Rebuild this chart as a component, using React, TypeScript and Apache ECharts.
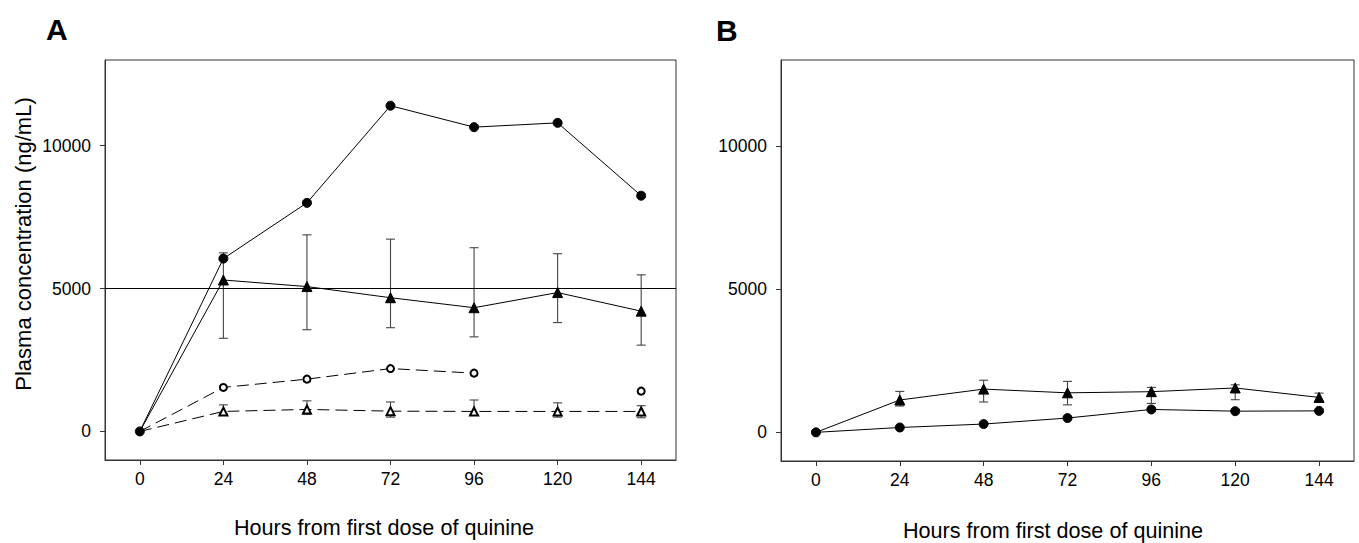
import React, { useEffect, useRef } from "react";
import * as echarts from "echarts";

const hours = [0, 24, 48, 72, 96, 120, 144];
const tickHours = [0, 24, 48, 72, 96, 120, 144];
const tickConc = [0, 5000, 10000];
const threshold = 5000;

// Panel A
const aFilledCircle = [0, 6050, 8000, 11400, 10650, 10800, 8250];
const aFilledTri = [0, 5300, 5070, 4680, 4330, 4860, 4210];
const aFilledTriLow = [null, 3260, 3560, 3630, 3310, 3810, 3020];
const aFilledTriHigh = [null, 6250, 6880, 6730, 6430, 6220, 5480];
const aOpenCircle = [0, 1540, 1830, 2200, 2040, null, 1410];
const aOpenTri = [0, 700, 770, 710, 700, 700, 700];
const aOpenTriLow = [null, 620, 600, 500, 590, 500, 480];
const aOpenTriHigh = [null, 930, 1070, 1030, 1100, 1000, 900];

// Panel B
const bFilledTri = [0, 1130, 1510, 1380, 1420, 1550, 1220];
const bFilledTriLow = [null, 920, 1060, 960, 1010, 1140, 1100];
const bFilledTriHigh = [null, 1430, 1820, 1780, 1570, 1660, 1370];
const bFilledCircle = [0, 170, 290, 500, 800, 740, 750];

const FONT = "Liberation Sans, Arial, sans-serif";
const LABEL_SIZE = 17.5;

function pts(vals: (number | null)[], hideFirst = false) {
  return vals.map((v, i) => {
    const value = [hours[i], v == null ? "-" : v];
    if (hideFirst && i === 0) return { value, symbolSize: 0 };
    return { value };
  });
}

function bars(lo: (number | null)[], hi: (number | null)[]) {
  const out: number[][] = [];
  lo.forEach((l, i) => {
    const h = hi[i];
    if (l != null && h != null) out.push([hours[i], l, h]);
  });
  return out;
}

function errorSeries(data: number[][], axis: number) {
  return {
    type: "custom",
    xAxisIndex: axis,
    yAxisIndex: axis,
    z: 1,
    encode: { x: 0, y: [1, 2] },
    data,
    renderItem: (params: any, api: any) => {
      const x = api.value(0);
      const lo = api.coord([x, api.value(1)]);
      const hi = api.coord([x, api.value(2)]);
      const hw = 4.5;
      const style = { stroke: "#444", lineWidth: 1.1 };
      return {
        type: "group",
        children: [
          { type: "line", shape: { x1: lo[0], y1: lo[1], x2: hi[0], y2: hi[1] }, style },
          { type: "line", shape: { x1: lo[0] - hw, y1: lo[1], x2: lo[0] + hw, y2: lo[1] }, style },
          { type: "line", shape: { x1: hi[0] - hw, y1: hi[1], x2: hi[0] + hw, y2: hi[1] }, style },
        ],
      };
    },
  };
}

function lineSeries(
  vals: (number | null)[],
  axis: number,
  symbol: string,
  size: number,
  dashed: boolean,
  hideFirst: boolean,
  z: number
) {
  return {
    type: "line",
    xAxisIndex: axis,
    yAxisIndex: axis,
    data: pts(vals, hideFirst),
    symbol,
    symbolSize: size,
    showSymbol: true,
    connectNulls: false,
    z,
    itemStyle: { color: "#000", borderColor: "#000", borderWidth: 1 },
    lineStyle: { color: "#000", width: 1, type: dashed ? [12, 6] : "solid" },
  };
}

const labelRich = { t: { fontSize: LABEL_SIZE, fontFamily: FONT, color: "#000" } };
const fmt = (v: number) => `{t|${v}}`;

function xAxis(idx: number) {
  return {
    type: "value",
    gridIndex: idx,
    min: -10,
    max: 154,
    splitLine: { show: false },
    axisLine: { show: true, onZero: false, lineStyle: { color: "#333", width: 1 } },
    axisTick: { show: true, length: 5, lineStyle: { color: "#333" }, customValues: tickHours },
    axisLabel: {
      customValues: tickHours,
      formatter: fmt,
      rich: labelRich,
      fontSize: LABEL_SIZE,
      fontFamily: FONT,
      color: "#000",
      margin: 10,
    },
  };
}

function yAxis(idx: number) {
  return {
    type: "value",
    gridIndex: idx,
    min: -1000,
    max: 13000,
    splitLine: { show: false },
    axisLine: { show: true, onZero: false, lineStyle: { color: "#333", width: 1 } },
    axisTick: { show: true, length: 5, lineStyle: { color: "#333" }, customValues: tickConc },
    axisLabel: {
      customValues: tickConc,
      formatter: fmt,
      rich: labelRich,
      fontSize: LABEL_SIZE,
      fontFamily: FONT,
      color: "#000",
      margin: 14,
    },
  };
}

export default function App() {
  const ref = useRef<HTMLDivElement>(null);
  useEffect(() => {
    if (!ref.current) return;
    const chart = echarts.init(ref.current, undefined, { renderer: "svg" });
    const aMain = lineSeries(aFilledCircle, 0, "circle", 9, false, false, 5);
    (aMain as any).markLine = {
      silent: true,
      symbol: ["none", "none"],
      label: { show: false },
      lineStyle: { color: "#000", width: 1, type: "solid" },
      data: [{ yAxis: threshold }],
    };
    chart.setOption({
      animation: false,
      backgroundColor: "#fff",
      textStyle: { fontFamily: FONT },
      grid: [
        { left: 105, top: 60, width: 571, height: 400, show: true, borderColor: "#333", borderWidth: 1, backgroundColor: "transparent" },
        { left: 781, top: 60, width: 573, height: 401, show: true, borderColor: "#333", borderWidth: 1, backgroundColor: "transparent" },
      ],
      xAxis: [xAxis(0), xAxis(1)],
      yAxis: [yAxis(0), yAxis(1)],
      series: [
        errorSeries(bars(aFilledTriLow, aFilledTriHigh), 0),
        errorSeries(bars(aOpenTriLow, aOpenTriHigh), 0),
        lineSeries(aOpenTri, 0, "emptyTriangle", 8, true, true, 3),
        lineSeries(aOpenCircle, 0, "emptyCircle", 7, true, true, 3),
        lineSeries(aFilledTri, 0, "triangle", 10, false, true, 4),
        aMain,
        errorSeries(bars(bFilledTriLow, bFilledTriHigh), 1),
        lineSeries(bFilledTri, 1, "triangle", 10, false, true, 4),
        lineSeries(bFilledCircle, 1, "circle", 9, false, false, 5),
      ],
      graphic: [
        { type: "text", left: 46, top: 14, style: { text: "A", font: `bold 30px ${FONT}`, fill: "#000" } },
        { type: "text", left: 716, top: 15, style: { text: "B", font: `bold 30px ${FONT}`, fill: "#000" } },
        {
          type: "text",
          x: 23,
          y: 244,
          rotation: Math.PI / 2,
          style: { text: "Plasma concentration (ng/mL)", font: `22px ${FONT}`, fill: "#000", textAlign: "center", textVerticalAlign: "middle" },
        },
        {
          type: "text",
          x: 384,
          y: 527,
          style: { text: "Hours from first dose of quinine", font: `21.6px ${FONT}`, fill: "#000", textAlign: "center", textVerticalAlign: "middle" },
        },
        {
          type: "text",
          x: 1053,
          y: 530,
          style: { text: "Hours from first dose of quinine", font: `21.6px ${FONT}`, fill: "#000", textAlign: "center", textVerticalAlign: "middle" },
        },
      ],
    });
    return () => chart.dispose();
  }, []);
  return (
    <div
      ref={ref}
      style={{ position: "fixed", left: 0, top: 0, width: 1359, height: 543, background: "#fff" }}
    />
  );
}
